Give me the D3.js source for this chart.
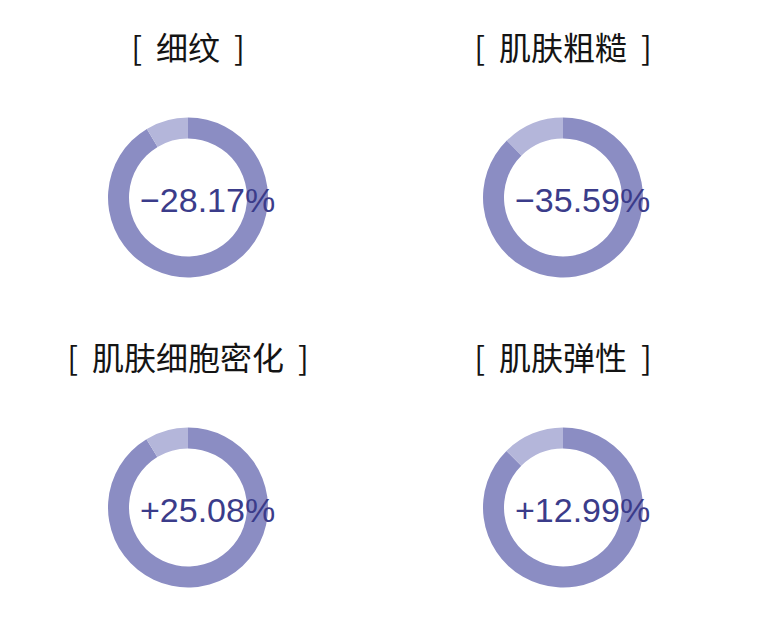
<!DOCTYPE html>
<html>
<head>
<meta charset="utf-8">
<script src="https://cdn.jsdelivr.net/npm/d3@7"></script>
<style>
    html, body { margin: 0; padding: 0; background: #fff; }
    svg { display: block; }
    .title { font-family: "Noto Sans CJK SC", sans-serif; font-size: 32px; fill: #141414; }
    .value { font-family: "Liberation Sans", Arial, sans-serif; font-size: 34px; fill: #3b3c8a; }
</style>
</head>
<body>
<svg id="chart"></svg>
<script>
// 四个指标
const titles = ['细纹', '肌肤粗糙', '肌肤细胞密化', '肌肤弹性'];
const changes = [-28.17, -35.59, 25.08, 12.99];
// 圆环两段占比（%）
const darkShare = [91.4, 87.6, 91.3, 87.5];
const lightShare = [8.6, 12.4, 8.7, 12.5];

const W = 767, H = 631;
const svg = d3.select('#chart').attr('width', W).attr('height', H);

const colX = d3.scalePoint().domain([0, 1]).range([188, 563]);
const rowY = d3.scalePoint().domain([0, 1]).range([197.5, 507.5]);

const outerR = 80, innerR = 59;
const pie = d3.pie().sort(null).value(d => d);
const arc = d3.arc().innerRadius(innerR).outerRadius(outerR);
const ringColors = ['#8b8dc3', '#b4b6da'];

const fmt = v => (v < 0 ? '\u2212' : '+') + Math.abs(v).toFixed(2) + '%';

titles.forEach((name, i) => {
    const cx = colX(i % 2), cy = rowY(Math.floor(i / 2));
    const g = svg.append('g').attr('transform', `translate(${cx},${cy})`);

    const t = g.append('text')
        .attr('class', 'title')
        .attr('text-anchor', 'middle')
        .attr('y', -138);
    t.append('tspan').text('[');
    t.append('tspan').attr('dx', 14).text(name);
    t.append('tspan').attr('dx', 14).text(']');

    g.selectAll('path')
        .data(pie([darkShare[i], lightShare[i]]))
        .enter()
        .append('path')
        .attr('d', arc)
        .attr('fill', (d, j) => ringColors[j]);

    g.append('text')
        .attr('class', 'value')
        .attr('x', -48)
        .attr('y', 14.5)
        .text(fmt(changes[i]));
});
</script>
</body>
</html>
